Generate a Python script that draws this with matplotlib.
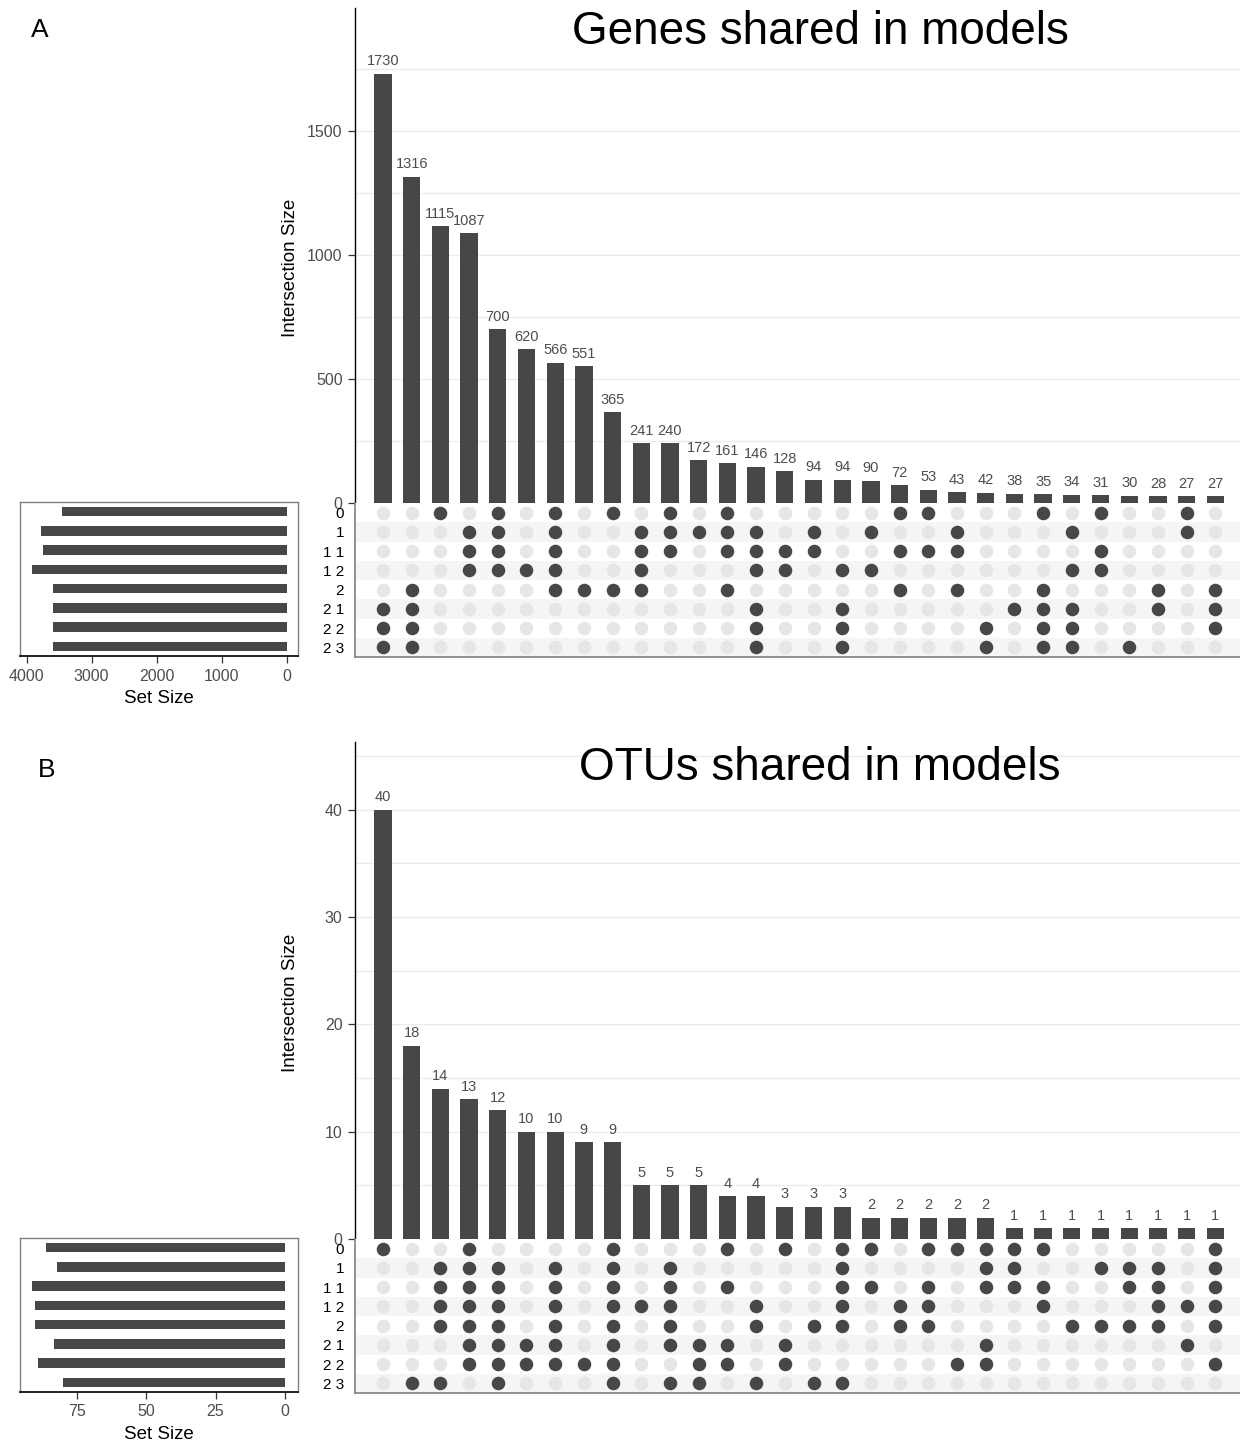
import matplotlib
matplotlib.use("Agg")
import matplotlib.pyplot as plt
from matplotlib.ticker import MultipleLocator

plt.rcParams["font.family"] = ["Liberation Sans", "DejaVu Sans"]

# ---------------- data ----------------
set_names = ["0", "1", "1 1", "1 2", "2", "2 1", "2 2", "2 3"]

# Panel A: genes
gene_counts = [1730, 1316, 1115, 1087, 700, 620, 566, 551, 365, 241, 240, 172, 161,
               146, 128, 94, 94, 90, 72, 53, 43, 42, 38, 35, 34, 31, 30, 28, 27, 27]
gene_set_sizes = [3460, 3775, 3755, 3925, 3590, 3600, 3600, 3600]
gene_members = {
    "0":   [2, 4, 6, 8, 10, 12, 18, 19, 23, 25, 28],
    "1":   [3, 4, 6, 9, 10, 11, 12, 13, 15, 17, 20, 24, 28],
    "1 1": [3, 4, 6, 9, 10, 12, 13, 14, 15, 18, 19, 20, 25],
    "1 2": [3, 4, 5, 6, 9, 13, 14, 16, 17, 24, 25],
    "2":   [1, 6, 7, 8, 9, 12, 18, 20, 23, 27, 29],
    "2 1": [0, 1, 13, 16, 22, 23, 24, 27, 29],
    "2 2": [0, 1, 13, 16, 21, 23, 24, 29],
    "2 3": [0, 1, 13, 16, 21, 23, 24, 26],
}

# Panel B: OTUs
otu_counts = [40, 18, 14, 13, 12, 10, 10, 9, 9, 5, 5, 5, 4, 4, 3, 3, 3,
              2, 2, 2, 2, 2, 1, 1, 1, 1, 1, 1, 1, 1]
otu_set_sizes = [86, 82, 91, 90, 90, 83, 89, 80]
otu_members = {
    "0":   [0, 3, 8, 12, 14, 16, 17, 19, 20, 21, 22, 23, 29],
    "1":   [2, 3, 4, 6, 8, 10, 16, 21, 22, 25, 26, 27, 29],
    "1 1": [2, 3, 4, 6, 8, 10, 12, 16, 17, 19, 21, 22, 23, 26, 27, 29],
    "1 2": [2, 3, 4, 6, 8, 9, 10, 13, 16, 18, 19, 23, 27, 28, 29],
    "2":   [2, 3, 4, 6, 8, 10, 13, 15, 16, 18, 19, 24, 25, 26, 27, 29],
    "2 1": [3, 4, 5, 6, 8, 10, 11, 12, 14, 21, 28],
    "2 2": [3, 4, 5, 6, 7, 8, 11, 12, 14, 20, 21, 29],
    "2 3": [1, 2, 4, 8, 10, 11, 13, 15, 16],
}

# ---------------- styling ----------------
DARK = "#474747"
LIGHT_DOT = "#e6e6e6"
BAND = "#f5f5f5"
GRID = "#ebebeb"
TICK_TXT = "#4d4d4d"

W, H = 1240, 1445
fig = plt.figure(figsize=(W / 100, H / 100), dpi=100)


def rect(x0, y0, x1, y1):
    return [x0 / W, 1 - y1 / H, (x1 - x0) / W, (y1 - y0) / H]


XLIM = (-0.975, 29.86)


def draw_panel(letter, letter_xy, title, title_xy, counts, members, set_sizes,
               top, zero, bottom, ymax, major, minor, set_xlim, set_ticks):
    n = len(counts)
    xs = list(range(n))

    # intersection size bars
    ax = fig.add_axes(rect(355, top, 1240, zero))
    ax.bar(xs, counts, width=0.6, color=DARK, zorder=3)
    for x, v in zip(xs, counts):
        ax.annotate(str(v), (x, v), xytext=(0, 4), textcoords="offset points",
                    ha="center", va="bottom", fontsize=10.5, color=TICK_TXT)
    ax.set_xlim(*XLIM)
    ax.set_ylim(0, ymax)
    ax.yaxis.set_major_locator(MultipleLocator(major))
    ax.yaxis.set_minor_locator(MultipleLocator(minor))
    ax.grid(which="both", axis="y", color=GRID, lw=0.9, zorder=0)
    ax.set_axisbelow(True)
    ax.set_xticks([])
    for s in ("top", "right", "bottom"):
        ax.spines[s].set_visible(False)
    ax.spines["left"].set_color("black")
    ax.spines["left"].set_linewidth(1.0)
    ax.tick_params(axis="y", which="major", labelsize=11.5, labelcolor=TICK_TXT,
                   length=5, width=0.9, color="#333333", pad=4)
    ax.tick_params(axis="y", which="minor", length=0)
    ax.set_ylabel("Intersection Size", fontsize=13.5)
    ax.yaxis.set_label_coords(-0.063, 0.475)

    # membership matrix
    mx = fig.add_axes(rect(355, zero, 1240, bottom))
    nrows = len(set_names)
    for r in range(nrows):
        if r % 2 == 1:
            mx.axhspan(r - 0.5, r + 0.5, color=BAND, lw=0, zorder=0)
    for r, name in enumerate(set_names):
        on = set(members[name])
        off_x = [x for x in xs if x not in on]
        on_x = [x for x in xs if x in on]
        mx.scatter(off_x, [r] * len(off_x), s=95, color=LIGHT_DOT, lw=0, zorder=2)
        mx.scatter(on_x, [r] * len(on_x), s=95, color=DARK, lw=0, zorder=3)
    mx.set_xlim(*XLIM)
    mx.set_ylim(nrows - 0.5, -0.5)
    mx.set_xticks([])
    mx.set_yticks(range(nrows))
    mx.set_yticklabels(set_names)
    mx.tick_params(axis="y", length=0, pad=8, labelsize=11, labelcolor="black")
    for s in ("top", "right"):
        mx.spines[s].set_visible(False)
    for s in ("left", "bottom"):
        mx.spines[s].set_color("#808080")
        mx.spines[s].set_linewidth(1.2)

    # set size bars
    sx = fig.add_axes(rect(20, zero - 1, 298, bottom - 1))
    sx.barh(range(nrows), set_sizes, height=0.5, color=DARK)
    sx.set_xlim(*set_xlim)
    sx.set_ylim(nrows - 0.5, -0.5)
    sx.set_yticks([])
    sx.set_xticks(set_ticks)
    sx.tick_params(axis="x", labelsize=11.5, labelcolor=TICK_TXT, length=5,
                   width=0.9, color="#333333", pad=4)
    for s in ("top", "right", "left"):
        sx.spines[s].set_color("#808080")
        sx.spines[s].set_linewidth(1.0)
    sx.spines["bottom"].set_color("black")
    sx.spines["bottom"].set_linewidth(1.2)
    sx.set_xlabel("Set Size", fontsize=13.5, labelpad=5)

    fig.text(letter_xy[0] / W, 1 - letter_xy[1] / H, letter, fontsize=19,
             ha="center", va="center")
    fig.text(title_xy[0] / W, 1 - title_xy[1] / H, title, fontsize=33,
             ha="center", va="center")


draw_panel("A", (40, 30), "Genes shared in models", (820, 32),
           gene_counts, gene_members, gene_set_sizes,
           top=8, zero=503, bottom=657, ymax=1996, major=500, minor=250,
           set_xlim=(4103, -174), set_ticks=[4000, 3000, 2000, 1000, 0])

draw_panel("B", (47, 770), "OTUs shared in models", (820, 768),
           otu_counts, otu_members, otu_set_sizes,
           top=742, zero=1239, bottom=1393, ymax=46.3, major=10, minor=5,
           set_xlim=(95.4, -4.7), set_ticks=[75, 50, 25, 0])

fig.savefig("out.png", dpi=100)
